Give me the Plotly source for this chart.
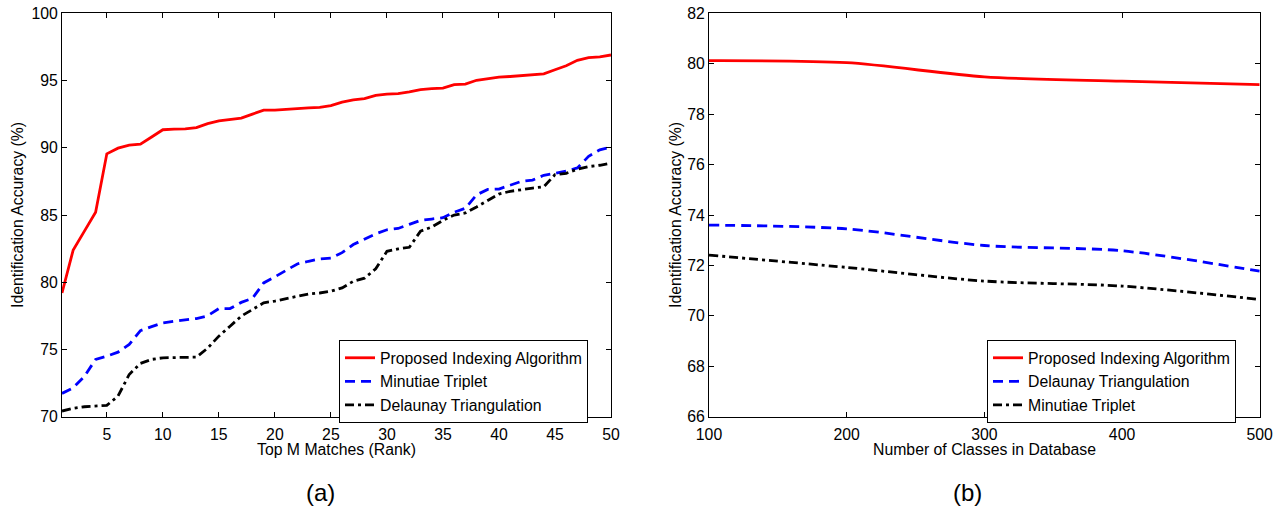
import plotly.graph_objects as go

# ---------- Data (a): Top M matches ----------
rank = list(range(1, 51))
proposed_a = [79.2, 82.4, 83.8, 85.2, 89.55, 89.97, 90.2, 90.27, 90.8, 91.34,
              91.39, 91.4, 91.5, 91.8, 92.0, 92.1, 92.2, 92.5, 92.8, 92.8,
              92.87, 92.9, 92.97, 93.0, 93.14, 93.4, 93.56, 93.65, 93.89, 93.99,
              94.03, 94.16, 94.33, 94.4, 94.43, 94.7, 94.73, 95.02, 95.15, 95.25,
              95.3, 95.37, 95.45, 95.5, 95.8, 96.1, 96.5, 96.7, 96.76, 96.9]
minutiae_a = [71.73, 72.15, 73.0, 74.26, 74.5, 74.8, 75.37, 76.4, 76.7, 76.98,
              77.1, 77.2, 77.3, 77.5, 78.04, 78.04, 78.5, 78.8, 79.95, 80.4,
              80.9, 81.36, 81.56, 81.73, 81.8, 82.2, 82.8, 83.2, 83.6, 83.9,
              84.0, 84.3, 84.6, 84.7, 84.8, 85.2, 85.5, 86.5, 86.9, 86.93,
              87.2, 87.5, 87.6, 87.95, 88.1, 88.27, 88.5, 89.36, 89.85, 90.05]
delaunay_a = [70.42, 70.62, 70.74, 70.79, 70.84, 71.53, 73.14, 73.96, 74.26, 74.38,
              74.38, 74.43, 74.43, 75.1, 75.99, 76.73, 77.48, 77.97, 78.47, 78.6,
              78.76, 78.96, 79.13, 79.2, 79.33, 79.58, 80.07, 80.3, 81.0, 82.3,
              82.48, 82.6, 83.8, 84.1, 84.6, 85.0, 85.15, 85.6, 86.1, 86.56,
              86.76, 86.9, 87.0, 87.1, 88.0, 88.1, 88.4, 88.6, 88.7, 88.86]

# ---------- Data (b): Number of classes ----------
classes = [100, 200, 300, 400, 500]
proposed_b = [80.12, 80.04, 79.48, 79.31, 79.17]
delaunay_b = [73.6, 73.45, 72.79, 72.58, 71.77]
minutiae_b = [72.41, 71.92, 71.38, 71.18, 70.65]

a_x_ticks = [5, 10, 15, 20, 25, 30, 35, 40, 45, 50]
a_y_ticks = [70, 75, 80, 85, 90, 95, 100]
b_x_ticks = [100, 200, 300, 400, 500]
b_y_ticks = [66, 68, 70, 72, 74, 76, 78, 80, 82]

W, H = 1281, 514
FONT = "Liberation Sans, Arial, sans-serif"
FS = 15.8

RED = "#ff0000"
BLUE = "#0000ff"
BLACK = "#000000"
DASH = "10px,6px"
DASHDOT = "9px,4px,3px,4px"
LW = 2.8


def px(x):
    return x / W


def py(y):
    return 1 - y / H


fig = go.Figure()

# (a)
fig.add_trace(go.Scatter(x=rank, y=proposed_a, mode="lines", name="Proposed Indexing Algorithm",
                         line=dict(color=RED, width=LW), xaxis="x", yaxis="y", legend="legend"))
fig.add_trace(go.Scatter(x=rank, y=minutiae_a, mode="lines", name="Minutiae Triplet",
                         line=dict(color=BLUE, width=LW, dash=DASH), xaxis="x", yaxis="y", legend="legend"))
fig.add_trace(go.Scatter(x=rank, y=delaunay_a, mode="lines", name="Delaunay Triangulation",
                         line=dict(color=BLACK, width=LW, dash=DASHDOT), xaxis="x", yaxis="y", legend="legend"))

# (b)
fig.add_trace(go.Scatter(x=classes, y=proposed_b, mode="lines", name="Proposed Indexing Algorithm",
                         line=dict(color=RED, width=LW, shape="spline", smoothing=0.8),
                         xaxis="x2", yaxis="y2", legend="legend2"))
fig.add_trace(go.Scatter(x=classes, y=delaunay_b, mode="lines", name="Delaunay Triangulation",
                         line=dict(color=BLUE, width=LW, dash=DASH, shape="spline", smoothing=0.8),
                         xaxis="x2", yaxis="y2", legend="legend2"))
fig.add_trace(go.Scatter(x=classes, y=minutiae_b, mode="lines", name="Minutiae Triplet",
                         line=dict(color=BLACK, width=LW, dash=DASHDOT, shape="spline", smoothing=0.8),
                         xaxis="x2", yaxis="y2", legend="legend2"))

y_dom = [py(416.7), py(13.3)]
ax_common = dict(showline=True, linecolor="black", linewidth=1, mirror="ticks",
                 ticks="inside", ticklen=5, tickwidth=1, tickcolor="black",
                 showgrid=False, zeroline=False, automargin=False,
                 ticklabeloverflow="allow",
                 tickfont=dict(family=FONT, size=FS, color="black"))

leg_common = dict(bgcolor="white", bordercolor="black", borderwidth=1,
                  font=dict(family=FONT, size=FS, color="black"),
                  xanchor="left", yanchor="top", tracegroupgap=0, itemwidth=30)

fig.update_layout(
    width=W, height=H,
    template="none",
    margin=dict(l=0, r=0, t=0, b=0, autoexpand=False),
    paper_bgcolor="white", plot_bgcolor="white",
    font=dict(family=FONT, size=FS, color="black"),
    xaxis=dict(domain=[px(62), px(611)], range=[1, 50], tickvals=a_x_ticks, anchor="y",
               ticklabelstandoff=3, **ax_common),
    yaxis=dict(domain=y_dom, range=[70, 100], tickvals=a_y_ticks, anchor="x", **ax_common),
    xaxis2=dict(domain=[px(709), px(1259.7)], range=[100, 500], tickvals=b_x_ticks, anchor="y2",
                ticklabelstandoff=3, **ax_common),
    yaxis2=dict(domain=y_dom, range=[66, 82], tickvals=b_y_ticks, anchor="x2", **ax_common),
    legend=dict(x=px(339), y=py(340), **leg_common),
    legend2=dict(x=px(987), y=py(340), **leg_common),
)

annots = [
    dict(text="Top M Matches (Rank)", x=336, y=449, size=FS, angle=0),
    dict(text="Number of Classes in Database", x=984, y=449, size=FS, angle=0),
    dict(text="Identification Accuracy (%)", x=17, y=215, size=FS, angle=-90),
    dict(text="Identification Accuracy (%)", x=675, y=215, size=FS, angle=-90),
    dict(text="(a)", x=320, y=492, size=24, angle=0),
    dict(text="(b)", x=968, y=492, size=24, angle=0),
]
for a in annots:
    fig.add_annotation(text=a["text"], x=px(a["x"]), y=py(a["y"]), xref="paper", yref="paper",
                       xanchor="center", yanchor="middle", showarrow=False, textangle=a["angle"],
                       font=dict(family=FONT, size=a["size"], color="black"))

fig.write_html("out.html", config={"displayModeBar": False},
               post_script="document.body.style.margin='0';")
